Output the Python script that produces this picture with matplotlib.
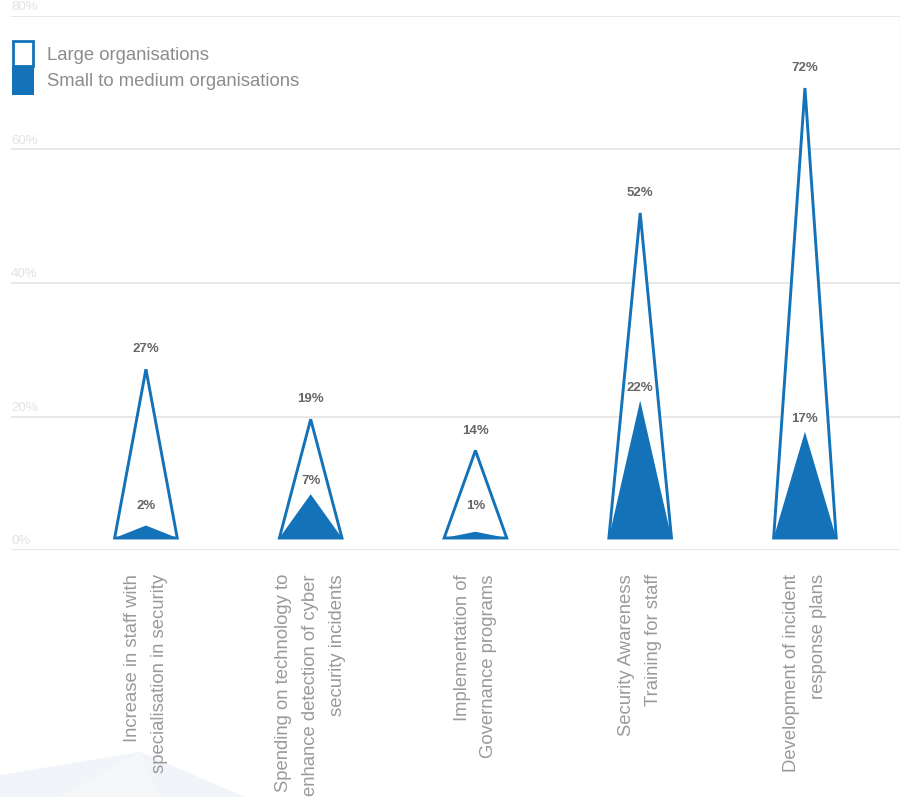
import matplotlib.pyplot as plt
from matplotlib.patches import Polygon, Rectangle
from matplotlib import transforms

plt.rcParams['font.family'] = ['Liberation Sans', 'DejaVu Sans']

categories = [
    "Increase in staff with\nspecialisation in security",
    "Spending on technology to\nenhance detection of cyber\nsecurity incidents",
    "Implementation of\nGovernance programs",
    "Security Awareness\nTraining for staff",
    "Development of incident\nresponse plans",
]
large_orgs = [27, 19, 14, 52, 72]
small_orgs = [2, 7, 1, 22, 17]
grid_ticks = [0, 20, 40, 60, 80]
tick_labels = ["0%", "20%", "40%", "60%", "80%"]

blue = "#1372b8"
half_w = 0.19

fig = plt.figure(figsize=(9.01, 7.97), dpi=100)

# background layer: legend and faint decoration, drawn in pixel coords
bg = fig.add_axes([0, 0, 1, 1], facecolor="none")
bg.set_xlim(0, 901)
bg.set_ylim(797, 0)
bg.axis("off")
bg.add_patch(Polygon([(0, 775), (140, 752), (245, 797), (0, 797)], closed=True,
                     facecolor="#f1f4f8", edgecolor="none", zorder=0))
bg.add_patch(Polygon([(60, 797), (140, 752), (160, 797)], closed=True,
                     facecolor="#f6f7f9", edgecolor="none", zorder=0))
bg.add_patch(Rectangle((13, 41), 20, 25, facecolor="white", edgecolor=blue, lw=2))
bg.add_patch(Rectangle((12, 66), 22, 29, facecolor=blue, edgecolor="none"))
bg.text(47, 55, "Large organisations", fontsize=13.3, color="#8c8c8c", va="center")
bg.text(47, 81, "Small to medium organisations", fontsize=13.3, color="#8c8c8c", va="center")

top_px, bot_px = 16, 550
box = [11 / 901, (797 - bot_px) / 797, 889 / 901, (bot_px - top_px) / 797]

# grid axes (labels sit above the lines, like the original)
ax = fig.add_axes(box, facecolor="none")
ax.set_ylim(0, 80)
ax.set_xlim(0, 1)
for t, lab in zip(grid_ticks, tick_labels):
    ax.axhline(t, color="#e4e4e4", lw=1.2, zorder=0)
    ax.text(0, t + 0.4, lab, color="#e2e2e2", fontsize=9.5, ha="left", va="bottom")
ax.axis("off")
ax.axvline(1, color="#ececec", lw=1.0)

# triangle axes, its own vertical scale: 0 at 538 px, 6.25 px per %
ppp = 6.25
ymin = -(bot_px - 538) / ppp
ymax = ymin + (bot_px - top_px) / ppp
ax2 = fig.add_axes(box, facecolor="none")
ax2.set_xlim(-0.819, 4.577)
ax2.set_ylim(ymin, ymax)
ax2.axis("off")

for i, (big, small) in enumerate(zip(large_orgs, small_orgs)):
    outline = Polygon([(i - half_w, 0), (i, big), (i + half_w, 0)], closed=True,
                      facecolor="white", edgecolor=blue, lw=2.1, joinstyle="miter", zorder=2)
    ax2.add_patch(outline)
    fill = Polygon([(i - half_w, 0), (i, small), (i + half_w, 0)], closed=True,
                   facecolor=blue, edgecolor="none", zorder=3)
    ax2.add_patch(fill)
    ax2.annotate(f"{big}%", (i, big), xytext=(0, 10), textcoords="offset points",
                 ha="center", va="bottom", fontsize=9.5, fontweight="bold", color="#666666")
    ax2.annotate(f"{small}%", (i, max(small, 3)), xytext=(0, 5), textcoords="offset points",
                 ha="center", va="bottom", fontsize=9.5, fontweight="bold", color="#666666")

trans = transforms.blended_transform_factory(ax2.transData, ax2.transAxes)
label_y = -(574 - bot_px) / (bot_px - top_px)
for i, cat in enumerate(categories):
    ax2.text(i, label_y, cat, transform=trans, rotation=90, ha="center", va="top",
             multialignment="right", fontsize=13.3, color="#9a9a9a", linespacing=1.75)

fig.savefig("out.png", dpi=100)
